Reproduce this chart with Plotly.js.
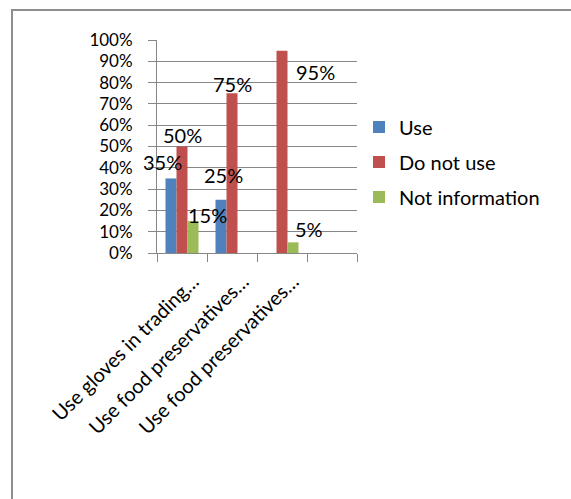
<!DOCTYPE html>
<html>
<head>
<meta charset="utf-8">
<script src="https://cdn.plot.ly/plotly-3.0.1.min.js"></script>
<style>
  html, body { margin: 0; padding: 0; background: #ffffff; }
  #frame { position: absolute; left: 11px; top: 9px; width: 620px; height: 560px; border: 2px solid #8e8e8e; }
  #chart { position: absolute; left: 0; top: 0; width: 571px; height: 499px; }
</style>
</head>
<body>
<div id="frame"></div>
<div id="chart"></div>
<script>
// ---- data ----
const categories = ["Use gloves in trading…", "Use food preservatives…", "Use food preservatives…", ""];
const seriesNames = ["Use", "Do not use", "Not information"];
const useValues = [0.35, 0.25, null, null];
const doNotUseValues = [0.50, 0.75, 0.95, null];
const notInformationValues = [0.15, null, 0.05, null];
const yTickValues = [0, 0.1, 0.2, 0.3, 0.4, 0.5, 0.6, 0.7, 0.8, 0.9, 1.0];

// ---- style ----
const colors = ["#4F81BD", "#C0504D", "#9BBB59"];
const font = "Lato, 'Open Sans', sans-serif";
const fs = 20;
const yfs = 17;
const gray = "#868686";
const bargap = 0.34;
const catLabelNudge = 0.22; // angled category labels sit slightly right of the slot centre
// per-label pixel nudges (series x category), matching the reference's label placement
const labelShiftX = [[-9, 2, 0, 0], [0, 0, 33, 0], [14, 0, 16, 0]];
const labelShiftY = [[16, 25, 0, 0], [12, 9, -21, 0], [6, 0, 13, 0]];

const allSeries = [useValues, doNotUseValues, notInformationValues];
const xIdx = categories.map((c, i) => i);

const traces = allSeries.map((vals, k) => ({
  type: "bar",
  name: seriesNames[k],
  legendgroup: "g" + k,
  x: xIdx,
  y: vals,
  marker: { color: colors[k] },
  hoverinfo: "skip"
}));
// dummy trace so the tick-mark axis is drawn
traces.push({ type: "scatter", x: [0], y: [null], xaxis: "x2", yaxis: "y", showlegend: false, hoverinfo: "skip" });

const bw = (1 - bargap) / allSeries.length;
const annotations = [];
allSeries.forEach((vals, k) => {
  vals.forEach((v, i) => {
    if (v === null || v === undefined) return;
    annotations.push({
      x: i + (k - (allSeries.length - 1) / 2) * bw,
      y: v,
      xref: "x", yref: "y",
      text: Math.round(v * 100) + "%",
      showarrow: false,
      xanchor: "center", yanchor: "middle",
      xshift: labelShiftX[k][i],
      yshift: labelShiftY[k][i],
      font: { family: font, size: fs, color: "#000000" }
    });
  });
});

const layout = {
  width: 571, height: 499,
  margin: { l: 157, r: 214, t: 40, b: 246 },
  paper_bgcolor: "rgba(0,0,0,0)",
  plot_bgcolor: "rgba(0,0,0,0)",
  barmode: "group",
  bargap: bargap,
  bargroupgap: 0,
  font: { family: font, size: fs, color: "#000000" },
  showlegend: true,
  legend: {
    x: 1.01, xanchor: "left", xref: "paper",
    y: 0.427, yanchor: "middle",
    traceorder: "grouped",
    tracegroupgap: 6,
    font: { family: font, size: fs, color: "#000000" },
    bgcolor: "rgba(0,0,0,0)"
  },
  xaxis: {
    type: "linear",
    range: [-0.5, 3.5],
    tickmode: "array",
    tickvals: xIdx.map(i => i + catLabelNudge),
    ticktext: categories,
    ticks: "",
    tickangle: -45,
    ticklabelstandoff: 8,
    showgrid: false,
    zeroline: false,
    showline: true,
    linecolor: gray,
    linewidth: 1,
    tickfont: { family: font, size: fs, color: "#000000" }
  },
  xaxis2: {
    type: "linear",
    overlaying: "x",
    anchor: "y",
    side: "bottom",
    range: [-0.5, 3.5],
    tickmode: "array",
    tickvals: [-0.5, 0.5, 1.5, 2.5, 3.5],
    ticks: "outside",
    ticklen: 8,
    tickcolor: gray,
    tickwidth: 1,
    showticklabels: false,
    showgrid: false,
    zeroline: false,
    showline: false
  },
  yaxis: {
    range: [0, 1],
    tickmode: "array",
    tickvals: yTickValues,
    tickformat: ".0%",
    ticks: "outside",
    ticklen: 8,
    tickcolor: gray,
    tickwidth: 1,
    ticklabelstandoff: 12,
    showgrid: true,
    gridcolor: gray,
    gridwidth: 1,
    zeroline: false,
    showline: true,
    linecolor: gray,
    linewidth: 1,
    tickfont: { family: font, size: yfs, color: "#000000" }
  },
  annotations: annotations
};

Plotly.newPlot("chart", traces, layout, { displayModeBar: false, staticPlot: true });
</script>
</body>
</html>
